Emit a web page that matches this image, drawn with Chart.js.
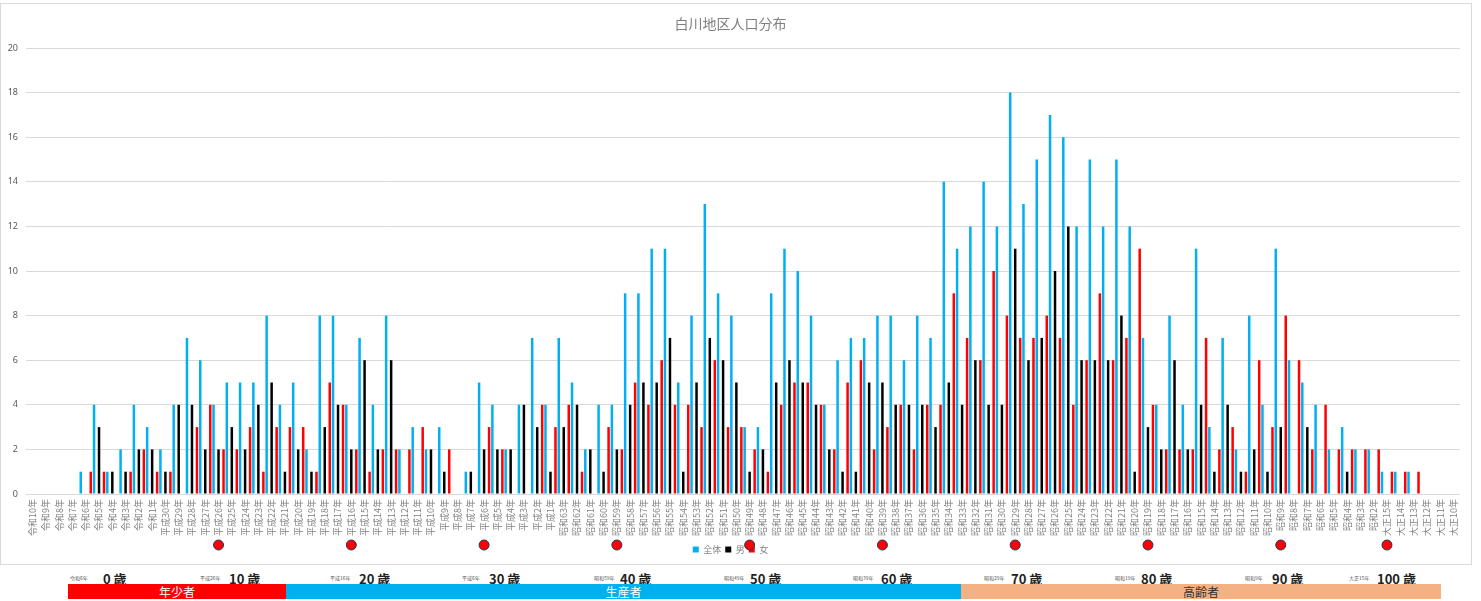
<!DOCTYPE html>
<html lang="ja">
<head>
<meta charset="utf-8">
<title>白川地区人口分布</title>
<script src="https://cdn.jsdelivr.net/npm/chart.js@4/dist/chart.umd.min.js"></script>
<style>
  body { margin: 0; background: #fff; font-family: "Noto Sans CJK JP", "Noto Sans", sans-serif; }
  #box { position: absolute; left: 0; top: 3px; width: 1470px; height: 560px; border: 1px solid #d9d9d9; }
  .age { position: absolute; top: 569px; font-family: "Liberation Sans Narrow", "Noto Sans CJK JP", sans-serif; font-size: 13px; font-weight: bold; color: #222; white-space: nowrap; }
  .tiny { position: absolute; top: 574px; font-size: 5px; color: #555; white-space: nowrap; }
  .band { position: absolute; top: 584px; height: 15px; line-height: 15px; font-size: 12px; text-align: center; }
</style>
</head>
<body>
<div id="box"><canvas id="chart"></canvas></div>

<div class="tiny" style="left:70px">令和6年</div>
<div class="age" style="left:103px">0 歳</div>
<div class="tiny" style="left:200px">平成26年</div>
<div class="age" style="left:229px">10 歳</div>
<div class="tiny" style="left:330px">平成16年</div>
<div class="age" style="left:359px">20 歳</div>
<div class="tiny" style="left:462px">平成6年</div>
<div class="age" style="left:489px">30 歳</div>
<div class="tiny" style="left:594px">昭和59年</div>
<div class="age" style="left:620px">40 歳</div>
<div class="tiny" style="left:724px">昭和49年</div>
<div class="age" style="left:750px">50 歳</div>
<div class="tiny" style="left:853px">昭和39年</div>
<div class="age" style="left:881px">60 歳</div>
<div class="tiny" style="left:984px">昭和29年</div>
<div class="age" style="left:1011px">70 歳</div>
<div class="tiny" style="left:1115px">昭和19年</div>
<div class="age" style="left:1141px">80 歳</div>
<div class="tiny" style="left:1245px">昭和9年</div>
<div class="age" style="left:1272px">90 歳</div>
<div class="tiny" style="left:1349px">大正15年</div>
<div class="age" style="left:1377px">100 歳</div>

<div class="band" style="left:68px;width:218px;background:#ff0000;color:#fff">年少者</div>
<div class="band" style="left:286px;width:675px;background:#00b0f0;color:#fff">生産者</div>
<div class="band" style="left:961px;width:480px;background:#f4b183;color:#333">高齢者</div>

<script>
// 生まれ年（令和10年 → 大正10年）
const years = [
  "令和10年", "令和9年", "令和8年", "令和7年", "令和6年", "令和5年", "令和4年", "令和3年", "令和2年", "令和1年",
  "平成30年", "平成29年", "平成28年", "平成27年", "平成26年", "平成25年", "平成24年", "平成23年", "平成22年", "平成21年",
  "平成20年", "平成19年", "平成18年", "平成17年", "平成16年", "平成15年", "平成14年", "平成13年", "平成12年", "平成11年",
  "平成10年", "平成9年", "平成8年", "平成7年", "平成6年", "平成5年", "平成4年", "平成3年", "平成2年", "平成1年",
  "昭和63年", "昭和62年", "昭和61年", "昭和60年", "昭和59年", "昭和58年", "昭和57年", "昭和56年", "昭和55年", "昭和54年",
  "昭和53年", "昭和52年", "昭和51年", "昭和50年", "昭和49年", "昭和48年", "昭和47年", "昭和46年", "昭和45年", "昭和44年",
  "昭和43年", "昭和42年", "昭和41年", "昭和40年", "昭和39年", "昭和38年", "昭和37年", "昭和36年", "昭和35年", "昭和34年",
  "昭和33年", "昭和32年", "昭和31年", "昭和30年", "昭和29年", "昭和28年", "昭和27年", "昭和26年", "昭和25年", "昭和24年",
  "昭和23年", "昭和22年", "昭和21年", "昭和20年", "昭和19年", "昭和18年", "昭和17年", "昭和16年", "昭和15年", "昭和14年",
  "昭和13年", "昭和12年", "昭和11年", "昭和10年", "昭和9年", "昭和8年", "昭和7年", "昭和6年", "昭和5年", "昭和4年",
  "昭和3年", "昭和2年", "大正15年", "大正14年", "大正13年", "大正12年", "大正11年", "大正10年"
];

const zentai = [
  0, 0, 0, 0, 1, 4, 1, 2, 4, 3,
  2, 4, 7, 6, 4, 5, 5, 5, 8, 4,
  5, 2, 8, 8, 4, 7, 4, 8, 2, 3,
  2, 3, 0, 1, 5, 4, 2, 4, 7, 4,
  7, 5, 2, 4, 4, 9, 9, 11, 11, 5,
  8, 13, 9, 8, 3, 3, 9, 11, 10, 8,
  4, 6, 7, 7, 8, 8, 6, 8, 7, 14,
  11, 12, 14, 12, 18, 13, 15, 17, 16, 12,
  15, 12, 15, 12, 7, 4, 8, 4, 11, 3,
  7, 2, 8, 4, 11, 6, 5, 4, 2, 3,
  2, 2, 1, 1, 1, 0, 0, 0
];
const otoko = [
  0, 0, 0, 0, 0, 3, 1, 1, 2, 2,
  1, 4, 4, 2, 2, 3, 2, 4, 5, 1,
  2, 1, 3, 4, 2, 6, 2, 6, 0, 0,
  2, 1, 0, 1, 2, 2, 2, 4, 3, 1,
  3, 4, 2, 1, 2, 4, 5, 5, 7, 1,
  5, 7, 6, 5, 1, 2, 5, 6, 5, 4,
  2, 1, 1, 5, 5, 4, 4, 4, 3, 5,
  4, 6, 4, 4, 11, 6, 7, 10, 12, 6,
  6, 6, 8, 1, 3, 2, 6, 2, 4, 1,
  4, 1, 2, 1, 3, 0, 3, 0, 0, 1,
  0, 0, 0, 0, 0, 0, 0, 0
];
const onna = [
  0, 0, 0, 0, 1, 1, 0, 1, 2, 1,
  1, 0, 3, 4, 2, 2, 3, 1, 3, 3,
  3, 1, 5, 4, 2, 1, 2, 2, 2, 3,
  0, 2, 0, 0, 3, 2, 0, 0, 4, 3,
  4, 1, 0, 3, 2, 5, 4, 6, 4, 4,
  3, 6, 3, 3, 2, 1, 4, 5, 5, 4,
  2, 5, 6, 2, 3, 4, 2, 4, 4, 9,
  7, 6, 10, 8, 7, 7, 8, 7, 4, 6,
  9, 6, 7, 11, 4, 2, 2, 2, 7, 2,
  3, 1, 6, 3, 8, 6, 2, 4, 2, 2,
  2, 2, 1, 1, 1, 0, 0, 0
];

// 10歳ごとの目印
const markerYears = ["平成26年", "平成16年", "平成6年", "昭和59年", "昭和49年", "昭和39年", "昭和29年", "昭和19年", "昭和9年", "大正15年"];

const markerPlugin = {
  id: "markers",
  afterDraw(chart) {
    const ctx = chart.ctx;
    const xs = chart.scales.x;
    const y = chart.chartArea.bottom + 51;
    markerYears.forEach((name) => {
      const i = years.indexOf(name);
      if (i < 0) return;
      const x = xs.getPixelForValue(i);
      ctx.save();
      ctx.beginPath();
      ctx.arc(x, y, 5, 0, Math.PI * 2);
      ctx.fillStyle = "#ff0000";
      ctx.fill();
      ctx.lineWidth = 1;
      ctx.strokeStyle = "#1f3864";
      ctx.stroke();
      ctx.restore();
    });
  },
};

const barOpts = { categoryPercentage: 1.13, barPercentage: 0.5 };

new Chart(document.getElementById("chart"), {
  type: "bar",
  data: {
    labels: years,
    datasets: [
      { label: "全体", data: zentai, backgroundColor: "#00b0f0", ...barOpts },
      { label: "男", data: otoko, backgroundColor: "#000000", ...barOpts },
      { label: "女", data: onna, backgroundColor: "#ff0000", ...barOpts },
    ],
  },
  options: {
    responsive: true,
    maintainAspectRatio: false,
    animation: false,
    layout: { padding: { top: 0, right: 11, bottom: 0, left: 0 } },
    plugins: {
      title: {
        display: true,
        text: "白川地区人口分布",
        color: "#808080",
        font: { size: 14, weight: "normal", family: "'Noto Sans CJK JP', sans-serif" },
        padding: { top: 11.6, bottom: 15.6 },
      },
      legend: {
        position: "bottom",
        labels: {
          boxWidth: 6,
          boxHeight: 6,
          padding: 4,
          color: "#808080",
          font: { size: 9, family: "'Noto Sans CJK JP', sans-serif" },
        },
      },
      tooltip: { enabled: false },
    },
    scales: {
      x: {
        grid: { display: false, drawTicks: false },
        border: { display: false },
        afterFit: (scale) => { scale.height = 47; },
        ticks: {
          autoSkip: false,
          maxRotation: 90,
          minRotation: 90,
          padding: 5,
          color: "#808080",
          font: { size: 9, family: "'Noto Sans CJK JP', sans-serif" },
        },
      },
      y: {
        min: 0,
        max: 20,
        grid: { color: "#d9d9d9", drawTicks: false },
        border: { display: false },
        afterFit: (scale) => { scale.width = 25; },
        ticks: {
          stepSize: 2,
          padding: 8,
          color: "#595959",
          font: { size: 9, family: "'Noto Sans', sans-serif" },
        },
      },
    },
  },
  plugins: [markerPlugin],
});
</script>
</body>
</html>
